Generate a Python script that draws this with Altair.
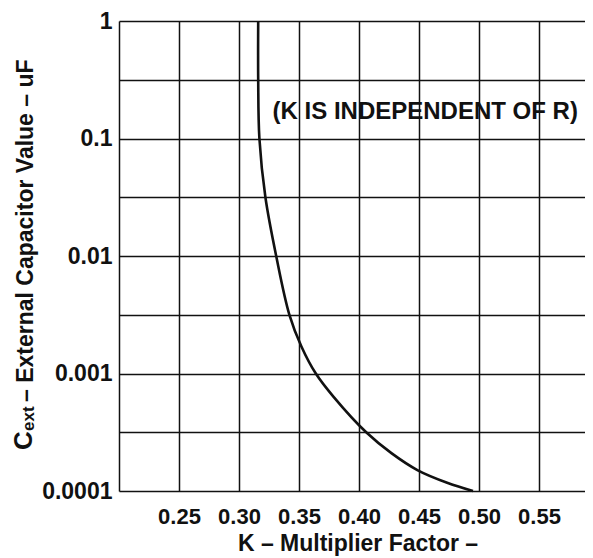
import altair as alt
import pandas as pd

# ---- data ----
cap_uF = [1.0, 0.316, 0.1, 0.0316, 0.01, 0.00316, 0.0017, 0.001, 0.00063,
          0.000316, 0.00021, 0.00015, 0.000117, 0.0001]
k_factor = [0.316, 0.316, 0.317, 0.322, 0.331, 0.342, 0.352, 0.364, 0.379,
            0.406, 0.427, 0.449, 0.474, 0.495]

x_grid = [0.20, 0.25, 0.30, 0.35, 0.40, 0.45, 0.50, 0.55]
x_labels = ["0.25", "0.30", "0.35", "0.40", "0.45", "0.50", "0.55"]
y_grid = [1, 0.316228, 0.1, 0.0316228, 0.01, 0.00316228, 0.001, 0.000316228, 0.0001]
y_labels = ["1", "0.1", "0.01", "0.001", "0.0001"]

note_text = ["(K IS INDEPENDENT OF R)"]
note_k = [0.328]
note_c = [0.147]

x_title = ["K \u2013 Multiplier Factor \u2013"]
y_title_main = ["C"]
y_title_sub = ["ext"]
y_title_rest = ["\u2013 External Capacitor Value \u2013 uF"]

FONT = "Liberation Sans"
INK = "#111111"

curve = pd.DataFrame({"K": k_factor, "C": cap_uF, "idx": list(range(len(cap_uF)))})
note = pd.DataFrame({"K": note_k, "C": note_c, "t": note_text})

ylab_list = "[" + ",".join("'" + s + "'" for s in y_labels) + "]"
xlab_list = "[" + ",".join("'" + s + "'" for s in x_labels) + "]"

xscale = alt.Scale(domain=[0.2, 0.58833], nice=False, zero=False)
yscale = alt.Scale(type="log", domain=[0.0001, 1], nice=False)

line = alt.Chart(curve).mark_line(
    color=INK, strokeWidth=2.6, interpolate="catmull-rom"
).encode(
    x=alt.X("K:Q", scale=xscale, axis=alt.Axis(
        values=x_grid,
        labelExpr="indexof(" + xlab_list + ", format(datum.value, '.2f')) >= 0 ? format(datum.value, '.2f') : ''",
        grid=True, gridColor=INK, gridWidth=1.5,
        gridOpacity=1, ticks=False, tickSize=0, domain=False,
        labelFont=FONT, labelFontWeight="bold", labelFontSize=22,
        labelColor=INK, labelPadding=32, labelBaseline="alphabetic",
        labelFlush=False, labelOverlap=False, title=None)),
    y=alt.Y("C:Q", scale=yscale, axis=alt.Axis(
        values=y_grid,
        labelExpr="indexof(" + ylab_list + ", '' + datum.value) >= 0 ? '' + datum.value : ''",
        grid=True, gridColor=INK, gridWidth=1.5, gridOpacity=1,
        ticks=False, tickSize=0, domain=False,
        labelFont=FONT, labelFontWeight="bold", labelFontSize=23,
        labelColor=INK, labelPadding=7, labelFlush=False, labelOverlap=False,
        title=None)),
    order="idx:O",
)

note_layer = alt.Chart(note).mark_text(
    font=FONT, fontWeight="bold", fontSize=24, color=INK,
    align="left", baseline="alphabetic"
).encode(x=alt.X("K:Q", scale=xscale), y=alt.Y("C:Q", scale=yscale), text="t:N")


def free_text(txt, x, y, size, angle=0, align="left"):
    return alt.Chart(pd.DataFrame({"t": txt})).mark_text(
        font=FONT, fontWeight="bold", fontSize=size, color=INK,
        align=align, baseline="alphabetic", angle=angle
    ).encode(text="t:N", x=alt.value(x), y=alt.value(y))


xt = free_text(x_title, 239, 530, 23, align="center")
yt1 = free_text(y_title_main, -87, 429, 26, angle=270)
yt2 = free_text(y_title_sub, -85, 410, 17, angle=270)
yt3 = free_text(y_title_rest, -86, 381, 23, angle=270)

chart = alt.layer(line, note_layer, xt, yt1, yt2, yt3).properties(
    width=466, height=470,
    autosize=alt.AutoSizeParams(type="none"),
    padding={"left": 111, "top": 13, "right": 0, "bottom": 67},
    background="white",
).configure_view(stroke="transparent", strokeWidth=0)

chart.save("out.html", embed_options={"renderer": "svg", "actions": False})
